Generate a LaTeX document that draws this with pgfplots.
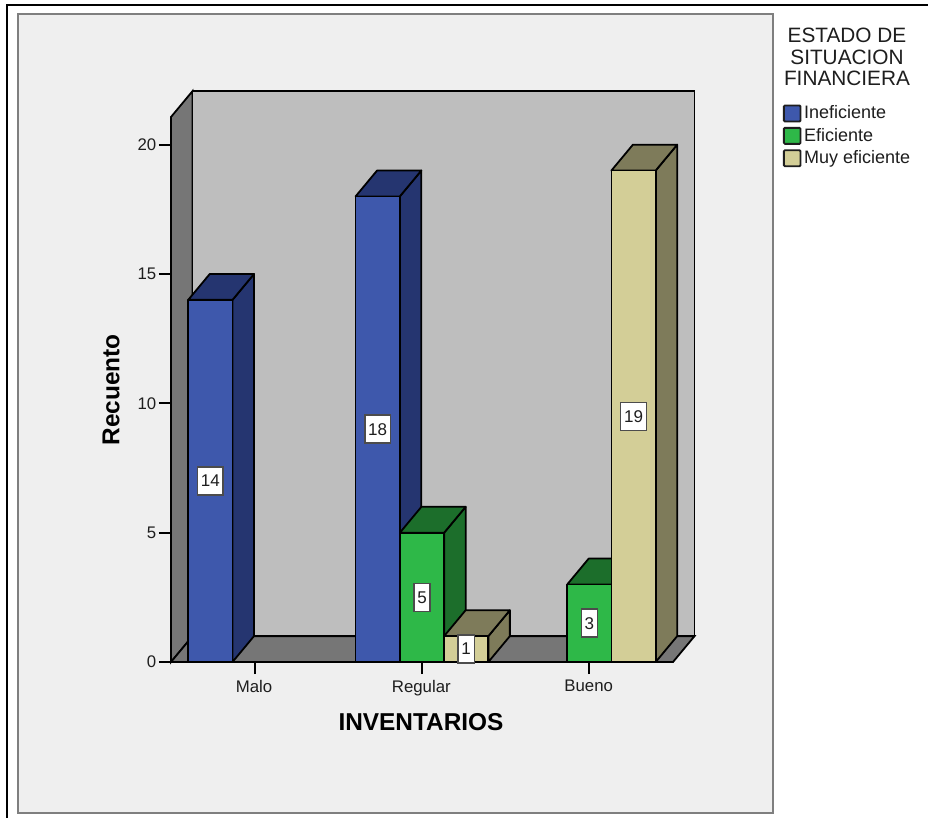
\documentclass[border=0pt]{standalone}
\usepackage{fontspec}
\setmainfont{Liberation Sans}
\usepackage{pgfplots}
\pgfplotsset{compat=1.18}

\definecolor{panelbg}{HTML}{EFEFEF}
\definecolor{panelrim}{HTML}{7F7F7F}
\definecolor{wallback}{HTML}{BEBEBE}
\definecolor{wallside}{HTML}{767676}
\definecolor{inkdark}{HTML}{1E1E1E}
\definecolor{blueF}{HTML}{3E58AC}
\definecolor{blueS}{HTML}{253570}
\definecolor{greenF}{HTML}{2EB848}
\definecolor{greenS}{HTML}{1C6E2B}
\definecolor{khakiF}{HTML}{D3CE97}
\definecolor{khakiS}{HTML}{7E7B5A}

% Bar width and oblique depth, in axis units
\def\barw{0.2645}
\def\depx{0.1285}
\def\depy{1.0}

% Left edge, count, front colour, shaded colour: side and top first, then the front
\newcommand{\solidbar}[4]{%
  \pgfmathsetmacro{\xa}{#1}%
  \pgfmathsetmacro{\xb}{#1+\barw}%
  \pgfmathsetmacro{\xc}{#1+\barw+\depx}%
  \pgfmathsetmacro{\xd}{#1+\depx}%
  \pgfmathsetmacro{\yb}{#2+\depy}%
  \edef\drawbar{%
    \noexpand\addplot[forget plot,fill=#4,draw=black,line width=1.35pt,line join=round]
      coordinates {(\xb,0) (\xc,\depy) (\xc,\yb) (\xb,#2)} -- cycle;
    \noexpand\addplot[forget plot,fill=#4,draw=black,line width=1.35pt,line join=round]
      coordinates {(\xa,#2) (\xb,#2) (\xc,\yb) (\xd,\yb)} -- cycle;
    \noexpand\addplot[forget plot,fill=#3,draw=black,line width=1.35pt,line join=round]
      coordinates {(\xa,0) (\xb,0) (\xb,#2) (\xa,#2)} -- cycle;
  }%
  \drawbar
}

\begin{document}
\begin{tikzpicture}
\begin{scope}[x=.75pt,y=-.75pt,shift={(0pt,613.5pt)}]
  \useasboundingbox (0,0) rectangle (928,818);
  \fill[white] (0,0) rectangle (928,818);
  \draw[black,line width=1.5pt] (928,5) -- (6.5,5) -- (6.5,818);
  \draw[panelrim,line width=1.5pt,fill=panelbg] (17.5,14.5) rectangle (772.5,813);
  \node[align=center,text=inkdark,font=\fontsize{15.6}{16.3}\selectfont,inner sep=0pt] at (847,57)
    {ESTADO DE\\SITUACION\\FINANCIERA};
\end{scope}

\begin{axis}[
  at={(128.25pt,117pt)},
  anchor=south west,
  scale only axis,
  width=376.5pt,
  height=408.75pt,
  xmin=-0.5, xmax=2.5,
  ymin=0, ymax=21.07,
  clip=false,
  axis lines=left,
  axis line style={-,black,line width=1.35pt},
  xtick={0,1,2},
  xticklabels={Malo,Regular,Bueno},
  ytick={0,5,10,15,20},
  tick style={black,line width=1.35pt},
  major tick length=9pt,
  tick align=outside,
  /pgf/number format/assume math mode=true,
  ticklabel style={font=\fontsize{12.6}{14}\selectfont,text=inkdark},
  xticklabel style={yshift=-1pt,xshift=-0.5pt},
  yticklabel style={xshift=1.5pt},
  xlabel={INVENTARIOS},
  ylabel={Recuento},
  every axis x label/.style={at={(axis cs:0.994,-2.32)},anchor=center,
    font=\fontsize{18.3}{20}\selectfont\bfseries,text=black},
  every axis y label/.style={at={(axis cs:-0.8586,10.52)},rotate=90,anchor=center,
    font=\fontsize{18.3}{20}\selectfont\bfseries,text=black},
  legend image code/.code={\draw[#1,line width=1.4pt,rounded corners=.8pt] (0pt,-6pt) rectangle (12.5pt,6pt);},
  legend style={at={(axis cs:3.157,21.6)},anchor=north west,draw=none,fill=none,
    inner sep=0pt,outer sep=0pt,font=\fontsize{13.5}{15}\selectfont,text=inkdark,
    row sep=1.5pt,
    /tikz/every even column/.append style={column sep=3pt}},
  legend cell align=left,
]
\addlegendimage{fill=blueF,draw=inkdark}
\addlegendentry{Ineficiente}
\addlegendimage{fill=greenF,draw=inkdark}
\addlegendentry{Eficiente}
\addlegendimage{fill=khakiF,draw=inkdark}
\addlegendentry{Muy eficiente}

% Box of the chart: left wall, back wall, floor
\addplot[forget plot,fill=wallside,draw=black,line width=1.35pt]
  coordinates {(-0.5,0) (-0.5,21.07) (-0.3715,22.07) (-0.3715,1)} -- cycle;
\addplot[forget plot,fill=wallback,draw=black,line width=1.35pt]
  coordinates {(-0.3715,1) (2.6285,1) (2.6285,22.07) (-0.3715,22.07)} -- cycle;
\addplot[forget plot,fill=wallside,draw=black,line width=1.35pt]
  coordinates {(-0.5,0) (2.5,0) (2.6285,1) (-0.3715,1)} -- cycle;

% Malo
\solidbar{-0.397}{14}{blueF}{blueS}
% Regular
\solidbar{0.603}{18}{blueF}{blueS}
\solidbar{0.868}{5}{greenF}{greenS}
\solidbar{1.132}{1}{khakiF}{khakiS}
% Bueno
\solidbar{1.868}{3}{greenF}{greenS}
\solidbar{2.132}{19}{khakiF}{khakiS}

% Count labels, centred on each front face
\addplot[forget plot,draw=none,mark=none,
  nodes near coords,
  point meta=explicit symbolic,
  every node near coord/.style={anchor=center,fill=white,draw=black!70,line width=1.1pt,
    font=\fontsize{12.75}{14}\selectfont,text=inkdark,
    inner xsep=2.5pt,inner ysep=0pt,minimum height=21pt},
] table[x=x,y expr=\thisrow{v}/2,meta=v] {
x      v
-0.265 14
0.735  18
1.000  5
1.264  1
2.000  3
2.264  19
};
\end{axis}
\end{tikzpicture}
\end{document}
